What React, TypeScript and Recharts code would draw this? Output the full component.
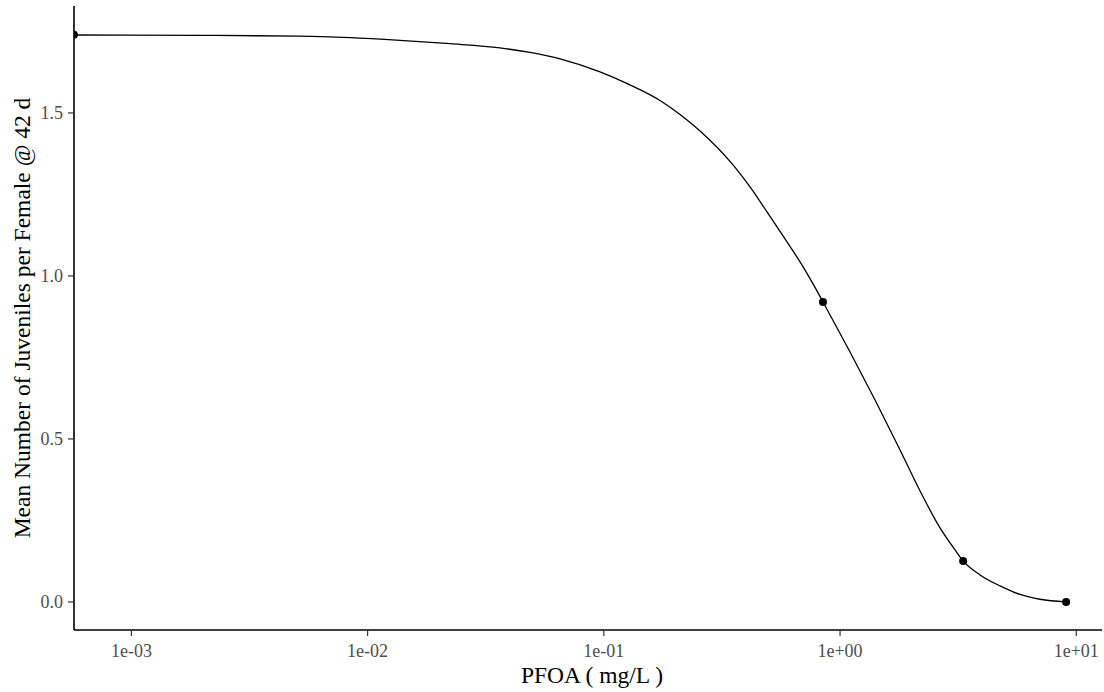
import {
  ComposedChart,
  Line,
  Scatter,
  XAxis,
  YAxis,
} from "recharts";

// fitted dose-response curve (concentration in mg/L)
const curveConc = [
  0.000571, 0.00195, 0.00517, 0.00842, 0.01372, 0.02233, 0.03635, 0.04869,
  0.06525, 0.09636, 0.1291, 0.1729, 0.2102, 0.2555, 0.3524, 0.4159, 0.4908,
  0.5737, 0.6773, 0.7686, 0.8473, 1.1024, 1.4066, 1.7949, 2.1818, 2.6506,
  3.0683, 3.317, 3.9146, 4.7576, 5.7825, 7.0262, 9.0553,
];
const curveResp = [
  1.739, 1.738, 1.7356, 1.7307, 1.7224, 1.7123, 1.6994, 1.6856, 1.6656,
  1.6258, 1.5859, 1.5383, 1.4954, 1.4448, 1.3405, 1.273, 1.1963, 1.1227,
  1.0429, 0.9755, 0.9202, 0.7669, 0.6196, 0.4663, 0.3405, 0.227, 0.1595,
  0.1258, 0.0828, 0.0491, 0.023, 0.0083, 0.0,
];

// observed means
const obsConc = [0.000571, 0.847, 3.32, 9.06];
const obsResp = [1.74, 0.92, 0.126, 0.0];

const xTicks = [-3, -2, -1, 0, 1];
const yTicks = [0, 0.5, 1.0, 1.5];

const curveData = curveConc.map((c, i) => ({ x: Math.log10(c), y: curveResp[i] }));
const obsData = obsConc.map((c, i) => ({ x: Math.log10(c), y: obsResp[i] }));

const FONT = "'Liberation Serif', 'Times New Roman', serif";

function fmtPow(v: number): string {
  const sign = v < 0 ? "-" : "+";
  return "1e" + sign + String(Math.abs(v)).padStart(2, "0");
}

export default function App() {
  return (
    <div style={{ position: "absolute", left: 0, top: 0, background: "#fff" }}>
      <ComposedChart
        width={1104}
        height={692}
        margin={{ top: 6, right: 2, bottom: 0, left: 0 }}
      >
        <XAxis
          dataKey="x"
          type="number"
          domain={[-3.243, 1.109]}
          allowDataOverflow
          ticks={xTicks}
          tickFormatter={fmtPow}
          height={62}
          axisLine={{ stroke: "#000", strokeWidth: 1.6 }}
          tickLine={{ stroke: "#333", strokeWidth: 1.2 }}
          tickSize={6}
          tickMargin={8}
          tick={{ fill: "#4d4d4d", fontSize: 18, fontFamily: FONT }}
          label={{
            content: () => (
              <text
                x={592}
                y={683}
                textAnchor="middle"
                fontSize={23.5}
                fontFamily={FONT}
                fill="#000"
              >
                PFOA ( mg/L )
              </text>
            ),
          }}
        />
        <YAxis
          dataKey="y"
          type="number"
          domain={[-0.086, 1.828]}
          allowDataOverflow
          ticks={yTicks}
          tickFormatter={(v) => v.toFixed(1)}
          width={74}
          axisLine={{ stroke: "#000", strokeWidth: 1.6 }}
          tickLine={{ stroke: "#333", strokeWidth: 1.2 }}
          tickSize={6}
          tickMargin={5}
          tick={{ fill: "#4d4d4d", fontSize: 18, fontFamily: FONT }}
          label={{
            content: () => (
              <text
                x={30}
                y={318}
                transform="rotate(-90 30 318)"
                textAnchor="middle"
                fontSize={23.5}
                fontFamily={FONT}
                fill="#000"
              >
                Mean Number of Juveniles per Female @ 42 d
              </text>
            ),
          }}
        />
        <Line
          data={curveData}
          dataKey="y"
          type="monotone"
          stroke="#000"
          strokeWidth={1.3}
          dot={false}
          activeDot={false}
          isAnimationActive={false}
        />
        <Scatter
          data={obsData}
          dataKey="y"
          fill="#000"
          isAnimationActive={false}
          shape={(p: any) => <circle cx={p.cx} cy={p.cy} r={4} fill="#000" />}
        />
      </ComposedChart>
    </div>
  );
}
